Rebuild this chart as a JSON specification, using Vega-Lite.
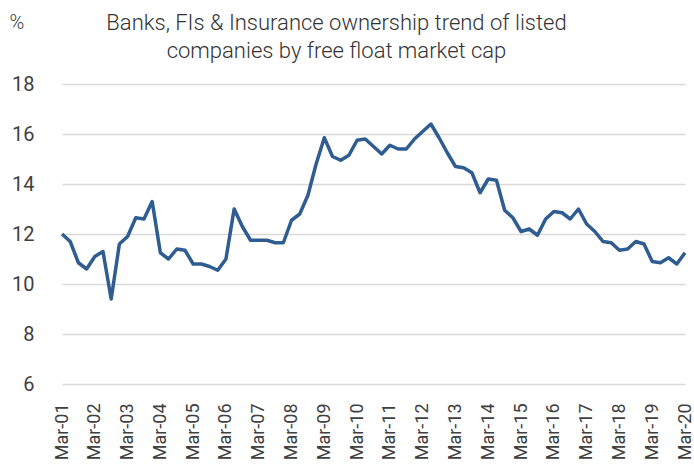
{
  "$schema": "https://vega.github.io/schema/vega-lite/v6.json",
  "width": 623,
  "height": 300,
  "autosize": {"type": "none"},
  "padding": {"left": 62, "top": 84, "right": 9, "bottom": 84},
  "background": "white",
  "config": {
    "font": "Roboto",
    "view": {"stroke": null},
    "axis": {"labelFont": "Roboto", "labelColor": "#404040", "titleFont": "Roboto"}
  },
  "title": {
    "text": ["Banks, FIs & Insurance ownership trend of listed", "companies by free float market cap"],
    "fontSize": 22,
    "fontWeight": 300,
    "color": "#333333",
    "anchor": "middle",
    "frame": "group",
    "dx": -37,
    "dy": 68,
    "lineHeight": 28,
    "offset": 17
  },
  "data": {
    "values": [
      {"q": "Mar-01", "v": 12.0}, {"q": "Jun-01", "v": 11.7}, {"q": "Sep-01", "v": 10.85}, {"q": "Dec-01", "v": 10.6},
      {"q": "Mar-02", "v": 11.1}, {"q": "Jun-02", "v": 11.3}, {"q": "Sep-02", "v": 9.4}, {"q": "Dec-02", "v": 11.6},
      {"q": "Mar-03", "v": 11.9}, {"q": "Jun-03", "v": 12.65}, {"q": "Sep-03", "v": 12.6}, {"q": "Dec-03", "v": 13.3},
      {"q": "Mar-04", "v": 11.25}, {"q": "Jun-04", "v": 11.0}, {"q": "Sep-04", "v": 11.4}, {"q": "Dec-04", "v": 11.35},
      {"q": "Mar-05", "v": 10.8}, {"q": "Jun-05", "v": 10.8}, {"q": "Sep-05", "v": 10.7}, {"q": "Dec-05", "v": 10.55},
      {"q": "Mar-06", "v": 11.0}, {"q": "Jun-06", "v": 13.0}, {"q": "Sep-06", "v": 12.3}, {"q": "Dec-06", "v": 11.75},
      {"q": "Mar-07", "v": 11.75}, {"q": "Jun-07", "v": 11.75}, {"q": "Sep-07", "v": 11.65}, {"q": "Dec-07", "v": 11.65},
      {"q": "Mar-08", "v": 12.55}, {"q": "Jun-08", "v": 12.8}, {"q": "Sep-08", "v": 13.55}, {"q": "Dec-08", "v": 14.8},
      {"q": "Mar-09", "v": 15.85}, {"q": "Jun-09", "v": 15.1}, {"q": "Sep-09", "v": 14.95}, {"q": "Dec-09", "v": 15.15},
      {"q": "Mar-10", "v": 15.75}, {"q": "Jun-10", "v": 15.8}, {"q": "Sep-10", "v": 15.5}, {"q": "Dec-10", "v": 15.2},
      {"q": "Mar-11", "v": 15.55}, {"q": "Jun-11", "v": 15.4}, {"q": "Sep-11", "v": 15.4}, {"q": "Dec-11", "v": 15.8},
      {"q": "Mar-12", "v": 16.1}, {"q": "Jun-12", "v": 16.4}, {"q": "Sep-12", "v": 15.85}, {"q": "Dec-12", "v": 15.25},
      {"q": "Mar-13", "v": 14.7}, {"q": "Jun-13", "v": 14.65}, {"q": "Sep-13", "v": 14.45}, {"q": "Dec-13", "v": 13.65},
      {"q": "Mar-14", "v": 14.2}, {"q": "Jun-14", "v": 14.15}, {"q": "Sep-14", "v": 12.95}, {"q": "Dec-14", "v": 12.65},
      {"q": "Mar-15", "v": 12.1}, {"q": "Jun-15", "v": 12.2}, {"q": "Sep-15", "v": 11.95}, {"q": "Dec-15", "v": 12.6},
      {"q": "Mar-16", "v": 12.9}, {"q": "Jun-16", "v": 12.85}, {"q": "Sep-16", "v": 12.6}, {"q": "Dec-16", "v": 13.0},
      {"q": "Mar-17", "v": 12.4}, {"q": "Jun-17", "v": 12.1}, {"q": "Sep-17", "v": 11.7}, {"q": "Dec-17", "v": 11.65},
      {"q": "Mar-18", "v": 11.35}, {"q": "Jun-18", "v": 11.4}, {"q": "Sep-18", "v": 11.7}, {"q": "Dec-18", "v": 11.6},
      {"q": "Mar-19", "v": 10.9}, {"q": "Jun-19", "v": 10.85}, {"q": "Sep-19", "v": 11.05}, {"q": "Dec-19", "v": 10.8},
      {"q": "Mar-20", "v": 11.25}
    ]
  },
  "mark": {"type": "line", "color": "#2F5D91", "strokeWidth": 3.5, "strokeJoin": "round"},
  "encoding": {
    "x": {
      "field": "q",
      "type": "ordinal",
      "sort": null,
      "scale": {"type": "point", "padding": 0},
      "axis": {
        "values": ["Mar-01","Mar-02","Mar-03","Mar-04","Mar-05","Mar-06","Mar-07","Mar-08","Mar-09","Mar-10","Mar-11","Mar-12","Mar-13","Mar-14","Mar-15","Mar-16","Mar-17","Mar-18","Mar-19","Mar-20"],
        "title": null,
        "labelAngle": -90,
        "labelFontSize": 18,
        "labelPadding": 19,
        "ticks": false,
        "domain": false,
        "grid": false,
        "labelOverlap": false
      }
    },
    "y": {
      "field": "v",
      "type": "quantitative",
      "scale": {"domain": [6, 18], "nice": false, "zero": false},
      "axis": {
        "values": [6, 8, 10, 12, 14, 16, 18],
        "title": "%",
        "titleAngle": 0,
        "titleFontSize": 20,
        "titleFontWeight": 300,
        "titleColor": "#404040",
        "titleAlign": "left",
        "titleBaseline": "alphabetic",
        "titleX": -53,
        "titleY": -56,
        "labelFontSize": 20,
        "labelPadding": 28,
        "ticks": false,
        "domain": false,
        "grid": true,
        "gridColor": "#D9D9D9",
        "gridWidth": 1.5
      }
    }
  }
}
